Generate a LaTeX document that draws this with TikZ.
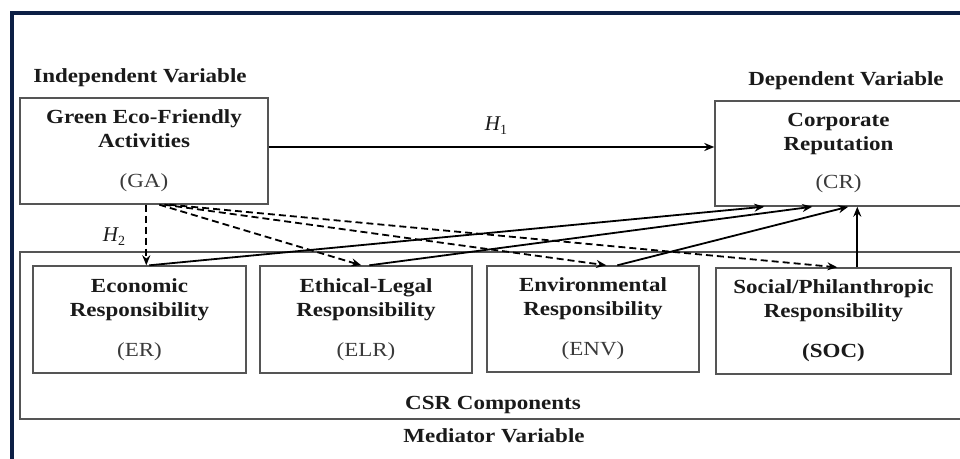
\documentclass[tikz,border=0pt]{standalone}
\usepackage{fontspec}
\setmainfont{Liberation Serif}[FakeStretch=1.15]
\newfontfamily\hfont{Liberation Serif}
\usetikzlibrary{arrows.meta,calc}
\definecolor{navy}{HTML}{0D1F45}
\definecolor{boxgray}{HTML}{555555}
\definecolor{txt}{HTML}{1A1A1A}
\definecolor{abbr}{HTML}{3A3A3A}
\newcommand{\hyplabel}[1]{{\hfont\itshape\fontsize{21}{24}\selectfont H}\raisebox{-4pt}{\hfont\fontsize{14}{14}\selectfont #1}}
\begin{document}
\begin{tikzpicture}[x=1pt,y=-1pt,
  box/.style={draw=boxgray, line width=1.4pt, align=center, font=\bfseries\fontsize{20}{24}\selectfont, text=txt, inner sep=0pt},
  lbl/.style={font=\bfseries\fontsize{20}{24}\selectfont, text=txt, inner sep=0pt, anchor=base},
  arr/.style={line width=1.8pt, -{Stealth[length=10pt,width=8pt]}},
  darr/.style={arr, dash pattern=on 7pt off 4pt},
]
\useasboundingbox (0,0) rectangle (960,458);
\clip (0,0) rectangle (960,458);
\fill[white] (0,0) rectangle (960,458);
\draw[navy, line width=4pt] (12,470) -- (12,13) -- (975,13);

% mediator container
\node[box, minimum width=942pt, minimum height=167pt] (CSR) at (491,335.5) {};

% main boxes
\node[box, minimum width=248pt, minimum height=106pt] (GA) at (144,151)
  {Green Eco-Friendly\\Activities\\[16pt]{\mdseries\color{abbr}(GA)}};
\node[box, minimum width=247pt, minimum height=105pt] (CR) at (838.5,153.5)
  {Corporate\\Reputation\\[14pt]{\mdseries\color{abbr}(CR)}};
\node[box, minimum width=213pt, minimum height=107pt] (ER) at (139.5,319.5)
  {Economic\\Responsibility\\[16pt]{\mdseries\color{abbr}(ER)}};
\node[box, minimum width=212pt, minimum height=107pt] (ELR) at (366,319.5)
  {Ethical-Legal\\Responsibility\\[16pt]{\mdseries\color{abbr}(ELR)}};
\node[box, minimum width=212pt, minimum height=106pt] (ENV) at (593,319)
  {Environmental\\Responsibility\\[16pt]{\mdseries\color{abbr}(ENV)}};
\node[box, minimum width=235pt, minimum height=106pt] (SOC) at (833.5,321)
  {Social/Philanthropic\\Responsibility\\[16pt](SOC)};

% labels
\node[lbl] (indep) at (140,82) {Independent Variable};
\node[lbl] (dep) at (846,85) {Dependent Variable};
\node[lbl] (csrlbl) at (493,409) {CSR Components};
\node[lbl] (medlbl) at (494,442) {Mediator Variable};
\node[anchor=base, inner sep=0pt, text=txt] (h1) at (496,130) {\hyplabel{1}};
\node[anchor=base, inner sep=0pt, text=txt] (h2) at (114,241) {\hyplabel{2}};

% H1
\draw[arr] ([yshift=4pt]GA.east) -- ([yshift=4pt]GA.east -| CR.west);

% dashed H2 paths
\draw[darr] ([xshift=127pt]GA.south west) -- ([xshift=114pt]ER.north west);
\draw[darr] ([xshift=140pt]GA.south west) -- ([xshift=102pt]ELR.north west);
\draw[darr] ([xshift=145pt]GA.south west) -- ([xshift=120pt]ENV.north west);
\draw[darr] ([xshift=150pt]GA.south west) -- ([xshift=122pt]SOC.north west);

% mediators to CR
\draw[arr] ([xshift=117pt]ER.north west) -- ([xshift=50pt]CR.south west);
\draw[arr] ([xshift=110pt]ELR.north west) -- ([xshift=98pt]CR.south west);
\draw[arr] ([xshift=131pt]ENV.north west) -- ([xshift=134pt]CR.south west);
\draw[arr] ([xshift=142pt]SOC.north west) -- ([xshift=142pt]SOC.north west |- CR.south);
\end{tikzpicture}
\end{document}
